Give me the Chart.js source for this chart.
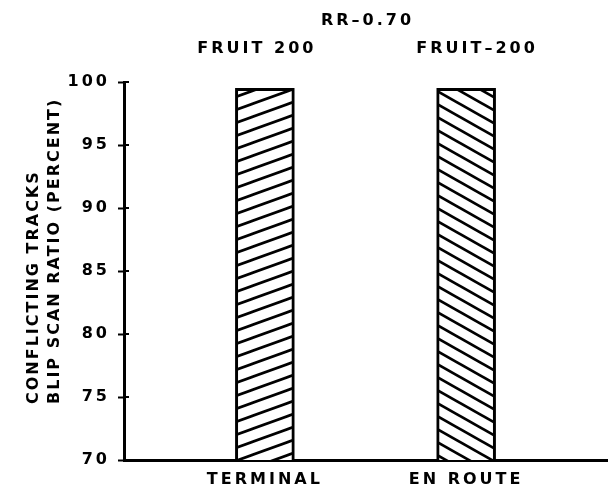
<!DOCTYPE html>
<html>
<head>
<meta charset="utf-8">
<script src="https://cdn.jsdelivr.net/npm/chart.js@4"></script>
<style>
  html, body { margin: 0; padding: 0; background: #fff; }
</style>
</head>
<body>
<canvas id="chart" width="609" height="493"></canvas>
<script>
// ─────────────────────────────
// DONNEES
// ─────────────────────────────
const categories = ['TERMINAL', 'EN ROUTE'];
const ratios = [99.5, 99.5];
const barNotes = ['FRUIT 200', 'FRUIT–200'];
const chartTitle = 'RR–0.70';
const yTitle = ['CONFLICTING TRACKS', 'BLIP SCAN RATIO (PERCENT)'];
const yMin = 70, yMax = 100, yStep = 5;

const FONT = '"DejaVu Sans", sans-serif';

// ─────────────────────────────
// HACHURES
// ─────────────────────────────
function hatch(w, h, dir) {
  const c = document.createElement('canvas');
  c.width = w; c.height = h;
  const g = c.getContext('2d');
  g.fillStyle = '#fff';
  g.fillRect(0, 0, w, h);
  g.strokeStyle = '#000';
  g.lineWidth = 2.7;
  [-h, 0, h].forEach(off => {
    g.beginPath();
    if (dir === '/') {
      g.moveTo(-w, 2 * h + off);
      g.lineTo(2 * w, -h + off);
    } else {
      g.moveTo(-w, -h + off);
      g.lineTo(2 * w, 2 * h + off);
    }
    g.stroke();
  });
  return g.createPattern(c, 'repeat');
}

const ctx = document.getElementById('chart').getContext('2d');
const patterns = [hatch(36, 13, '/'), hatch(23, 13, '\\')];

// ─────────────────────────────
// TEXTES ANNEXES
// ─────────────────────────────
const noteShift = [-8, 11];

const annotations = {
  id: 'annotations',
  beforeDraw(chart) {
    chart.ctx.letterSpacing = '3px';
  },
  afterDraw(chart) {
    const { ctx, chartArea, scales } = chart;
    ctx.save();
    ctx.fillStyle = '#000';
    ctx.strokeStyle = '#000';

    // petites graduations vers l'intérieur
    ctx.lineWidth = 2;
    scales.y.ticks.forEach(t => {
      const y = scales.y.getPixelForValue(t.value);
      ctx.beginPath();
      ctx.moveTo(chartArea.left, y);
      ctx.lineTo(chartArea.left + 5, y);
      ctx.stroke();
    });

    ctx.textAlign = 'center';
    ctx.textBaseline = 'middle';
    ctx.font = 'bold 16px ' + FONT;
    ctx.letterSpacing = '3px';
    ctx.fillText(chartTitle, (chartArea.left + chartArea.right) / 2 + 2, 21);

    const bars = chart.getDatasetMeta(0).data;
    bars.forEach((bar, i) => ctx.fillText(barNotes[i], bar.x + noteShift[i], 49));

    // titre de l'axe Y (deux lignes, alignées en bas)
    ctx.font = 'bold 16px ' + FONT;
    ctx.letterSpacing = '2px';
    ctx.textAlign = 'left';
    ctx.translate(0, 404);
    ctx.rotate(-Math.PI / 2);
    const cols = [34, 55];
    yTitle.forEach((t, i) => ctx.fillText(t, 0, cols[i]));
    ctx.restore();
  }
};

// ─────────────────────────────
// GRAPHIQUE
// ─────────────────────────────
new Chart(ctx, {
  type: 'bar',
  data: {
    datasets: [{
      data: categories.map((c, i) => ({ x: i + 1, y: ratios[i] })),
      backgroundColor: patterns,
      borderColor: '#000',
      borderWidth: 3,
      borderSkipped: false,
      barThickness: 59
    }]
  },
  options: {
    responsive: false,
    animation: false,
    devicePixelRatio: 1,
    layout: { padding: { top: 82, right: 2, left: 0, bottom: 0 } },
    plugins: {
      legend: { display: false },
      tooltip: { enabled: false }
    },
    scales: {
      x: {
        type: 'linear',
        offset: false,
        min: 0.3,
        max: 2.7,
        afterFit(scale) { scale.height = 33; },
        afterBuildTicks(scale) {
          scale.ticks = categories.map((c, i) => ({ value: i + 1 }));
        },
        grid: { display: false, drawTicks: false, offset: false },
        border: { display: true, color: '#000', width: 3 },
        ticks: {
          padding: 10,
          color: '#000',
          font: { family: FONT, size: 16, weight: 'bold' },
          callback: v => categories[v - 1] || ''
        }
      },
      y: {
        min: yMin,
        max: yMax,
        afterFit(scale) { scale.width = 124; },
        grid: { drawOnChartArea: false, drawTicks: true, tickLength: 6, tickWidth: 2, color: '#000' },
        border: { display: true, color: '#000', width: 3 },
        ticks: {
          stepSize: yStep,
          padding: 8,
          color: '#000',
          font: { family: FONT, size: 16, weight: 'bold' }
        }
      }
    }
  },
  plugins: [annotations]
});
</script>
</body>
</html>
